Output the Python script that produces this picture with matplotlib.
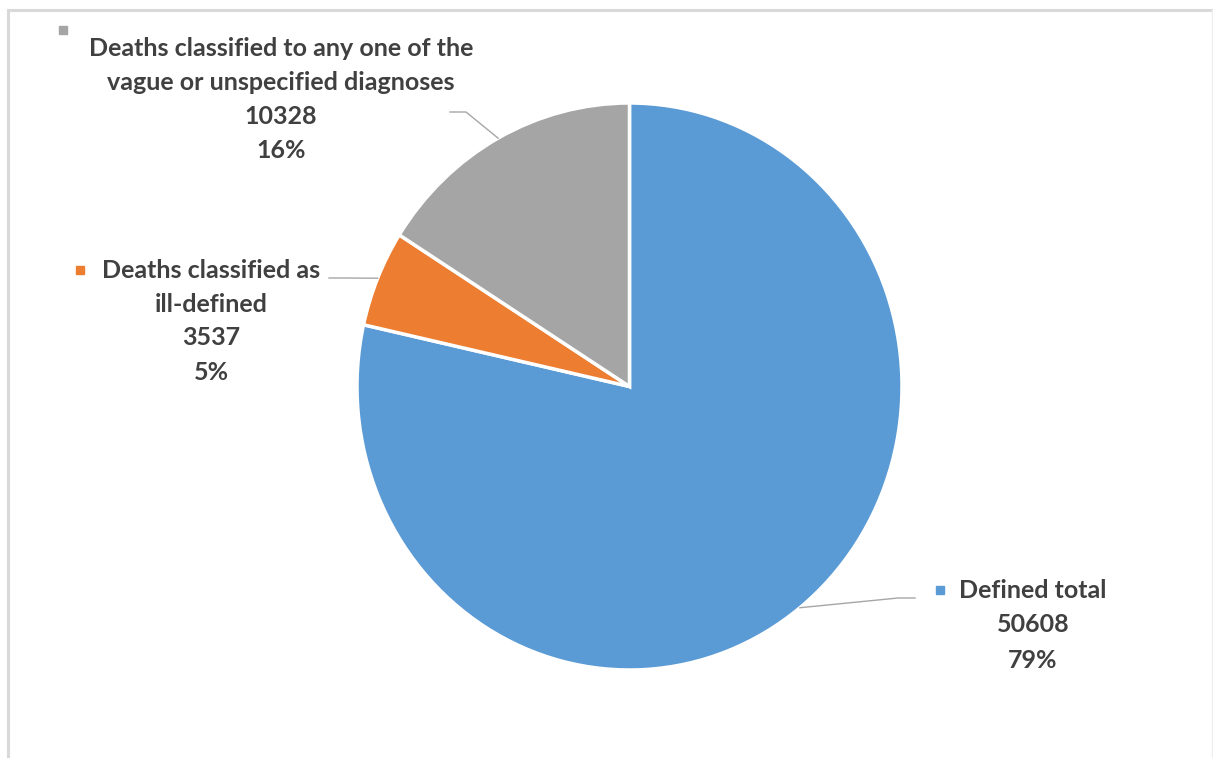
import matplotlib
matplotlib.use("Agg")
import matplotlib.pyplot as plt
from matplotlib.lines import Line2D
import numpy as np

# data
categories = ["Defined total",
              "Deaths classified as ill-defined",
              "Deaths classified to any one of the vague or unspecified diagnoses"]
values = [50608, 3537, 10328]
percents = ["79%", "5%", "16%"]
colors = ["#5B9BD5", "#ED7D31", "#A5A5A5"]

# label text lines as wrapped in the original
label_lines = [
    ["Defined total", "50608", "79%"],
    ["Deaths classified as", "ill-defined", "3537", "5%"],
    ["Deaths classified to any one of the", "vague or unspecified diagnoses", "10328", "16%"],
]

plt.rcParams['font.family'] = ['Lato', 'DejaVu Sans']

W, H = 1213, 758
fig = plt.figure(figsize=(W / 100, H / 100), dpi=100)
ax = fig.add_axes([0, 0, 1, 1])

# pie centre / radii in image pixels (slightly stretched vertically)
cx, cy = 629.5, 386.5
rx, ry = 272.5, 283.5

wedges, _ = ax.pie(values, colors=colors, startangle=90, counterclock=False,
                   wedgeprops=dict(edgecolor='white', linewidth=2.5))
ax.set_aspect('auto')
ax.set_xlim(-cx / rx, (W - cx) / rx)
ax.set_ylim(-(H - cy) / ry, cy / ry)
ax.axis('off')


def px(x, y):
    return x / W, 1 - y / H


text_col = "#404040"
fs = 18

# label layout: (centre x, first line y, line step, marker xy, leader knee/start)
layout = [
    dict(x=1033, y=590, step=35, marker=(940, 590), start=(915, 598), knee=(898, 598)),
    dict(x=211, y=270, step=34, marker=(80, 270), start=(329, 278), knee=(345, 278)),
    dict(x=281, y=48, step=34, marker=(63, 30), start=(450, 112), knee=(466, 112)),
]

fig.canvas.draw()
for w, lines, lay, col in zip(wedges, label_lines, layout, colors):
    for i, ln in enumerate(lines):
        fig.text(*px(lay["x"], lay["y"] + i * lay["step"]), ln, ha='center', va='center',
                 fontsize=fs, fontweight='bold', color=text_col)
    fig.add_artist(Line2D([px(*lay["marker"])[0]], [px(*lay["marker"])[1]], marker='s',
                          markersize=6, color=col, linestyle='none'))
    # leader line to rim at wedge mid-angle
    mid = np.deg2rad((w.theta1 + w.theta2) / 2)
    rim = ax.transData.transform((np.cos(mid), np.sin(mid)))
    rim_f = fig.transFigure.inverted().transform(rim)
    s = px(*lay["start"])
    k = px(*lay["knee"])
    fig.add_artist(Line2D([s[0], k[0], rim_f[0]], [s[1], k[1], rim_f[1]],
                          color="#A6A6A6", linewidth=1.0))

# outer chart frame
frame_col = "#D9D9D9"
fig.add_artist(Line2D([px(7.5, 9.5)[0], px(1212, 9.5)[0]], [px(7.5, 9.5)[1]] * 2,
                      color=frame_col, linewidth=2.2))
fig.add_artist(Line2D([px(7.5, 9.5)[0]] * 2, [px(7.5, 9.5)[1], 0],
                      color=frame_col, linewidth=2.2))
fig.add_artist(Line2D([px(1212, 9.5)[0]] * 2, [px(1212, 9.5)[1], 0],
                      color="#EEEEEE", linewidth=1.0))

fig.savefig("out.png", dpi=100)
